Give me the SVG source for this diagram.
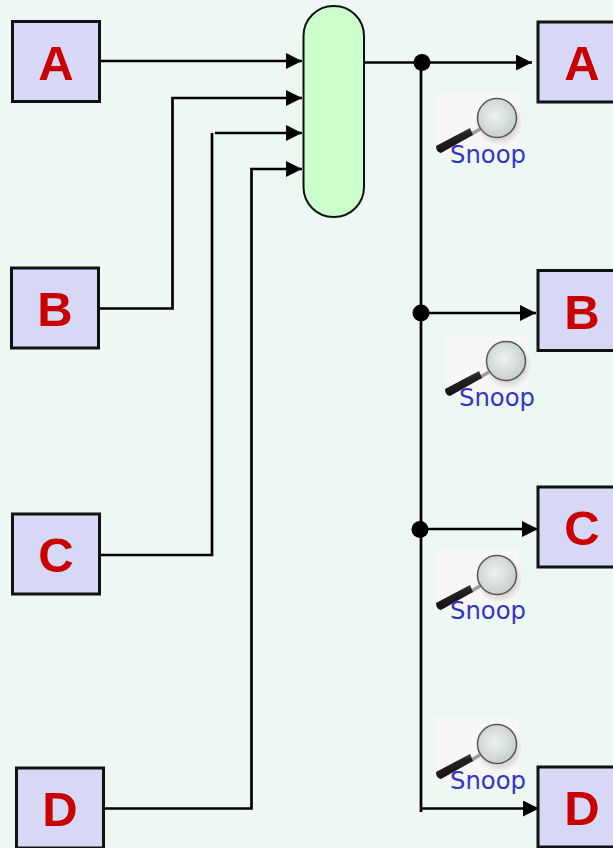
<svg xmlns="http://www.w3.org/2000/svg" width="613" height="848" viewBox="0 0 613 848">
<style>
.box{fill:#d6d8f5;stroke:#111;stroke-width:3}
.l{font-family:"Liberation Sans",Arial,sans-serif;font-weight:700;font-size:49px;fill:#c80000;text-anchor:middle}
.s{font-family:"DejaVu Sans",sans-serif;font-size:24.3px;fill:#3535c4}
.c{fill:none;stroke:#000;stroke-width:2.7}
.d{fill:#000}
</style>
<defs>
<marker id="a" markerUnits="userSpaceOnUse" markerWidth="16" markerHeight="16" refX="16" refY="8" orient="auto"><path d="M0 0L16 8L0 16Z" fill="#000"/></marker>
<radialGradient id="g" cx="0.45" cy="0.45" r="0.6"><stop offset="0" stop-color="#eef2f0"/><stop offset="1" stop-color="#c3cdca"/></radialGradient>
<radialGradient id="sh" cx="0.5" cy="0.5" r="0.5"><stop offset="0.7" stop-color="#dcd6d2"/><stop offset="1" stop-color="#f8f7f7"/></radialGradient>
<linearGradient id="h" x1="0" y1="0" x2="0.35" y2="1"><stop offset="0" stop-color="#777"/><stop offset="0.45" stop-color="#222"/><stop offset="1" stop-color="#111"/></linearGradient>
<symbol id="mag" width="84" height="64" overflow="visible">
<rect x="0" y="0" width="83" height="62" fill="#f8f7f7"/>
<circle cx="63" cy="30" r="24" fill="url(#sh)"/>
<path d="M34 43L44 37" stroke="#a09c98" stroke-width="3.500"/>
<path d="M44 37L50 33" stroke="#b8aca4" stroke-width="3"/>
<path d="M0 54L34 36L37 43L5 61Q0 60 0 54Z" fill="url(#h)"/>
<circle cx="61" cy="26" r="19.500" fill="url(#g)" stroke="#55595a" stroke-width="1.500"/>
</symbol>
</defs>
<rect width="613" height="848" fill="#eef8f3"/>
<g id="snoop-icons">
<use href="#mag" x="436" y="92"/>
<use href="#mag" x="445" y="335"/>
<use href="#mag" x="436" y="549"/>
<use href="#mag" x="436" y="718"/>
</g>
<g id="connectors">
<path class="c" d="M100 61H302" marker-end="url(#a)"/>
<path class="c" d="M100 308.500H172.500V98H302" marker-end="url(#a)"/>
<path class="c" d="M100 555H212V133"/>
<path class="c" d="M215 133H302" marker-end="url(#a)"/>
<path class="c" d="M104 808.500H251.500V169H302" marker-end="url(#a)"/>
<path class="c" d="M363 62.500H532" marker-end="url(#a)"/>
<path class="c" d="M421 62V812"/>
<path class="c" d="M421 313H536" marker-end="url(#a)"/>
<path class="c" d="M420 529H538" marker-end="url(#a)"/>
<path class="c" d="M421 808.500H539" marker-end="url(#a)"/>
<circle class="d" cx="422" cy="62.500" r="8.500"/>
<circle class="d" cx="421" cy="313" r="8.500"/>
<circle class="d" cx="420" cy="529.500" r="8.500"/>
</g>
<g id="mux"><rect x="303.500" y="6" width="60.500" height="211" rx="30" ry="30" fill="#ccffcc" stroke="#111" stroke-width="2"/></g>
<g id="in-a"><rect class="box" x="12.500" y="21.500" width="87" height="80"/><text class="l" x="56" y="80">A</text></g>
<g id="in-b"><rect class="box" x="11.500" y="268" width="87" height="80"/><text class="l" x="55" y="326">B</text></g>
<g id="in-c"><rect class="box" x="12.500" y="514" width="87" height="80"/><text class="l" x="56" y="572">C</text></g>
<g id="in-d"><rect class="box" x="16.500" y="768" width="87" height="80"/><text class="l" x="60" y="826">D</text></g>
<g id="out-a"><rect class="box" x="538" y="22" width="87" height="80"/><text class="l" x="582" y="80">A</text></g>
<g id="out-b"><rect class="box" x="538" y="270.500" width="87" height="80"/><text class="l" x="582" y="329">B</text></g>
<g id="out-c"><rect class="box" x="538" y="487" width="87" height="80"/><text class="l" x="582" y="545">C</text></g>
<g id="out-d"><rect class="box" x="538" y="767" width="87" height="80"/><text class="l" x="582" y="825">D</text></g>
<g id="snoop-labels">
<text class="s" x="450" y="163">Snoop</text>
<text class="s" x="459" y="406">Snoop</text>
<text class="s" x="450" y="619">Snoop</text>
<text class="s" x="450" y="789">Snoop</text>
</g>
</svg>
